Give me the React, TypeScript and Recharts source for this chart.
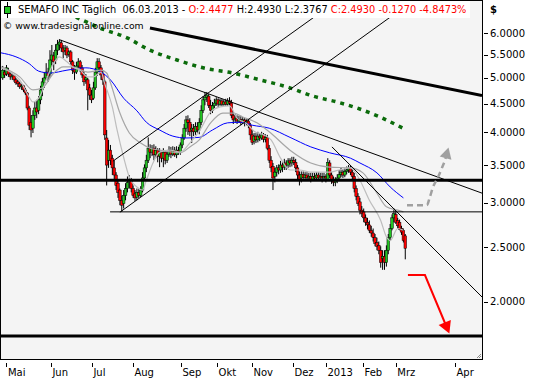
import React from 'react';
import { ComposedChart, Bar, Line, XAxis, YAxis, ReferenceLine } from 'recharts';

const FONT = "'DejaVu Sans', Verdana, sans-serif";

// trading-day index of first candle (0 = 1 May 2012)
const FIRST_DAY = -2;
// [open, high, low, close] per trading day
const ohlc: number[][] = [
  [5.00,5.25,4.96,5.16],[5.12,5.21,5.00,5.06],[5.08,5.27,5.04,5.21],[5.16,5.21,5.02,5.08],[5.08,5.12,4.96,5.02],
  [5.02,5.10,4.96,5.04],[5.04,5.06,4.92,4.96],[4.96,5.00,4.86,4.90],[4.92,4.96,4.82,4.88],[4.88,4.92,4.78,4.82],
  [4.82,4.88,4.76,4.84],[4.84,4.86,4.72,4.76],[4.76,4.80,4.66,4.70],[4.70,4.72,4.38,4.42],[4.42,4.46,4.04,4.12],
  [4.17,4.29,3.92,4.04],[4.07,4.38,3.99,4.29],[4.29,4.53,4.21,4.42],[4.42,4.57,4.24,4.35],[4.38,4.64,4.31,4.57],
  [4.57,4.84,4.49,4.76],[4.76,5.00,4.64,4.92],[4.90,5.12,4.80,5.00],[5.00,5.31,4.96,5.12],[5.12,5.21,4.92,5.04],
  [5.08,5.60,5.00,5.38],[5.38,5.72,5.27,5.49],[5.47,5.56,5.16,5.34],[5.38,5.74,5.29,5.60],[5.60,5.84,5.49,5.74],
  [5.72,5.86,5.60,5.79],[5.77,5.84,5.56,5.65],[5.65,5.72,5.42,5.56],[5.60,5.72,5.49,5.65],[5.65,5.70,5.42,5.49],
  [5.51,5.60,5.45,5.56],[5.56,5.60,5.27,5.34],[5.34,5.38,5.08,5.16],[5.21,5.27,4.96,5.12],[5.12,5.34,5.08,5.25],
  [5.25,5.42,5.16,5.34],[5.34,5.38,5.12,5.21],[5.21,5.27,5.00,5.06],[5.06,5.12,4.84,4.92],[4.96,5.08,4.88,5.00],
  [4.96,5.00,4.38,4.76],[4.80,4.88,4.57,4.66],[4.66,4.76,4.51,4.57],[4.60,4.92,4.57,4.80],[4.80,5.21,4.76,5.12],
  [5.12,5.42,5.04,5.34],[5.34,5.42,5.12,5.21],[5.21,5.27,4.96,5.06],[5.08,5.16,4.86,4.96],[4.92,4.96,3.88,3.96],
  [3.91,4.04,3.22,3.50],[3.57,3.88,3.46,3.72],[3.72,3.80,3.50,3.57],[3.60,3.65,3.36,3.46],[3.46,3.57,3.29,3.36],
  [3.36,3.40,3.16,3.22],[3.25,3.29,3.06,3.13],[3.16,3.18,2.97,3.03],[3.03,3.09,2.89,2.97],[2.99,3.16,2.93,3.09],
  [3.09,3.25,3.03,3.18],[3.18,3.34,3.13,3.26],[3.26,3.36,3.18,3.29],[3.29,3.32,3.13,3.18],[3.18,3.22,3.06,3.09],
  [3.11,3.16,3.02,3.06],[3.07,3.18,3.03,3.13],[3.13,3.18,3.06,3.09],[3.09,3.21,3.07,3.16],[3.16,3.40,3.13,3.32],
  [3.32,3.51,3.29,3.46],[3.46,3.65,3.40,3.57],[3.57,3.92,3.53,3.75],[3.75,3.81,3.60,3.69],[3.69,3.80,3.63,3.75],
  [3.75,3.81,3.57,3.65],[3.65,3.78,3.60,3.72],[3.72,3.75,3.54,3.63],[3.63,3.75,3.47,3.69],[3.69,3.72,3.54,3.60],
  [3.60,3.75,3.47,3.69],[3.69,3.72,3.51,3.57],[3.57,3.72,3.53,3.66],[3.66,3.78,3.62,3.72],[3.72,3.77,3.60,3.66],
  [3.66,3.78,3.63,3.72],[3.72,3.77,3.62,3.65],[3.65,3.78,3.60,3.72],[3.72,3.77,3.65,3.69],[3.69,3.84,3.65,3.80],
  [3.80,3.97,3.75,3.91],[3.91,4.14,3.88,4.07],[4.07,4.28,4.01,4.21],[4.21,4.29,3.96,4.17],[4.17,4.24,3.94,4.01],
  [4.04,4.14,3.83,4.07],[4.07,4.14,3.94,4.01],[4.01,4.17,3.96,4.10],[4.10,4.17,3.99,4.04],[4.04,4.24,3.97,4.17],
  [4.17,4.47,4.12,4.38],[4.38,4.64,4.33,4.57],[4.57,4.72,4.47,4.62],[4.62,4.72,4.53,4.66],[4.64,4.68,4.42,4.47],
  [4.47,4.57,4.31,4.38],[4.38,4.53,4.33,4.46],[4.46,4.59,4.42,4.51],[4.51,4.62,4.46,4.57],[4.57,4.60,4.44,4.49],
  [4.49,4.59,4.46,4.55],[4.55,4.59,4.44,4.49],[4.49,4.57,4.46,4.53],[4.53,4.59,4.46,4.49],[4.49,4.60,4.46,4.55],
  [4.55,4.62,4.47,4.51],[4.51,4.57,4.24,4.29],[4.29,4.35,4.14,4.21],[4.21,4.31,4.16,4.24],[4.24,4.29,4.14,4.19],
  [4.19,4.28,4.16,4.22],[4.22,4.28,4.12,4.17],[4.17,4.26,4.14,4.21],[4.21,4.24,4.10,4.16],[4.16,4.22,4.12,4.19],
  [4.19,4.22,4.07,4.12],[4.12,4.16,3.88,3.96],[3.96,4.04,3.80,3.84],[3.86,3.99,3.81,3.94],[3.94,3.99,3.83,3.88],
  [3.88,4.01,3.84,3.94],[3.94,3.99,3.86,3.91],[3.91,4.01,3.88,3.96],[3.96,3.99,3.84,3.89],[3.89,3.97,3.84,3.92],
  [3.92,3.96,3.72,3.75],[3.75,3.80,3.53,3.57],[3.57,3.63,3.40,3.46],[3.48,3.53,3.16,3.32],[3.34,3.46,3.26,3.40],
  [3.40,3.50,3.34,3.46],[3.46,3.51,3.37,3.43],[3.43,3.56,3.39,3.50],[3.50,3.54,3.40,3.47],[3.47,3.59,3.43,3.53],
  [3.53,3.57,3.43,3.50],[3.50,3.60,3.46,3.56],[3.56,3.60,3.47,3.53],[3.53,3.62,3.48,3.57],[3.57,3.62,3.50,3.54],
  [3.54,3.59,3.40,3.46],[3.46,3.50,3.29,3.36],[3.36,3.41,3.22,3.29],[3.32,3.41,3.26,3.37],[3.37,3.41,3.29,3.33],
  [3.33,3.40,3.29,3.36],[3.36,3.40,3.28,3.32],[3.32,3.39,3.29,3.34],[3.34,3.39,3.26,3.30],[3.30,3.39,3.28,3.34],
  [3.34,3.39,3.28,3.32],[3.32,3.40,3.29,3.36],[3.36,3.40,3.28,3.32],[3.32,3.39,3.29,3.34],[3.34,3.39,3.26,3.32],
  [3.32,3.39,3.28,3.34],[3.34,3.37,3.26,3.32],[3.30,3.60,3.28,3.54],[3.53,3.57,3.32,3.36],[3.36,3.40,3.24,3.29],
  [3.29,3.34,3.21,3.26],[3.26,3.33,3.21,3.29],[3.29,3.37,3.25,3.32],[3.32,3.43,3.29,3.37],[3.37,3.46,3.33,3.40],
  [3.40,3.44,3.32,3.36],[3.36,3.46,3.33,3.41],[3.41,3.48,3.37,3.43],[3.43,3.50,3.39,3.46],[3.46,3.50,3.36,3.40],
  [3.40,3.44,3.29,3.34],[3.34,3.39,3.13,3.18],[3.18,3.22,3.03,3.08],[3.08,3.12,2.96,2.99],[3.01,3.06,2.86,2.91],
  [2.91,2.96,2.83,2.87],[2.89,2.93,2.77,2.82],[2.82,2.86,2.73,2.77],[2.77,2.82,2.69,2.74],[2.74,2.79,2.65,2.68],
  [2.68,2.73,2.61,2.65],[2.65,2.70,2.56,2.60],[2.60,2.64,2.51,2.54],[2.55,2.60,2.47,2.51],[2.52,2.56,2.43,2.47],
  [2.47,2.51,2.30,2.35],[2.39,2.47,2.28,2.41],[2.41,2.47,2.28,2.35],[2.35,2.52,2.31,2.47],[2.47,2.64,2.43,2.60],
  [2.60,2.75,2.57,2.70],[2.70,2.86,2.68,2.82],[2.82,2.93,2.77,2.87],[2.86,2.91,2.75,2.77],[2.79,2.82,2.70,2.73],
  [2.77,2.80,2.68,2.69],[2.70,2.73,2.63,2.66],[2.68,2.70,2.55,2.57],[2.62,2.64,2.38,2.49],
];

// moving averages: [day index, price]
const blueMA: number[][] = [[-3,5.54],[5,5.45],[12,5.30],[17,5.14],[23,5.10],[32,5.16],[42,5.21],[50,5.12],[55,4.96],[62,4.60],[69,4.37],[74,4.17],[81,4.04],[88,3.94],[95,3.91],[102,3.92],[109,4.04],[117,4.16],[124,4.17],[130,4.12],[139,4.07],[150,3.92],[161,3.77],[171,3.68],[182,3.60],[187,3.53],[196,3.39],[203,3.20],[210,3.06]];
const fastMA: number[][] = [[-3,5.21],[2,5.12],[7,4.96],[12,4.62],[14,4.53],[18,4.66],[21,4.96],[25,5.31],[28,5.45],[32,5.34],[35,5.23],[39,5.16],[43,5.02],[46,5.02],[50,5.12],[52,4.88],[56,4.44],[58.5,4.04],[62,3.61],[65,3.33],[69,3.20],[72,3.16],[74,3.29],[77.5,3.53],[81,3.69],[86.5,3.72],[92,3.69],[97,3.83],[102,4.02],[108,4.35],[113,4.44],[118,4.46],[122,4.24],[127,4.15],[131,4.02],[136,3.96],[140,3.88],[145,3.60],[150,3.43],[155,3.43],[161,3.40],[171,3.40],[176,3.43],[182,3.46],[187,3.29],[192,3.03],[198,2.79],[201,2.61],[203,2.57],[207,2.70],[210,2.68]];
const slowMA: number[][] = [[-3,5.23],[7,5.02],[14,4.76],[19,4.80],[25,5.10],[30,5.23],[35,5.23],[43,5.12],[50,5.16],[53,5.10],[55,4.90],[60,4.33],[65,3.99],[71,3.83],[76,3.75],[81,3.72],[88,3.69],[92,3.68],[97,3.77],[102,3.88],[108,4.16],[114.5,4.33],[120,4.33],[125,4.26],[132.5,4.16],[139,4.01],[150,3.72],[161,3.53],[171,3.47],[182,3.46],[188.6,3.39],[196,3.12],[201,2.95],[207,2.91],[210,2.89]];
const longMA: number[][] = [[28,6.60],[38.9,6.36],[49.5,6.13],[63.8,5.89],[75.9,5.60],[90.2,5.38],[104,5.21],[119.8,5.10],[134.1,4.96],[150,4.80],[162.2,4.64],[174.9,4.53],[185.4,4.42],[197.6,4.26],[209.8,4.07]];

// drawn trend lines: [[x1, p1], [x2, p2]]
const thinTrends: number[][][] = [
  [[28.3,5.84],[251.6,3.12]],
  [[56.3,3.556],[175.4,6.876]],
  [[60,2.886],[215.6,6.876]],
  [[172.2,3.77],[251.6,2.04]],
  [[54.8,2.89],[251.6,2.89]],
];
const thickTrends: number[][][] = [
  [[75.9,6.13],[251.6,4.65]],
  [[-2.91,3.29],[251.6,3.29]],
  [[-2.91,1.739],[251.6,1.739]],
];
const redArrow: number[][] = [[212.4,2.232],[221.4,2.232],[233.1,1.797]];
const greyArrow: number[][] = [[211.9,2.97],[222.4,2.97],[224,3.07],[225.7,3.20],[228.3,3.33],[230.4,3.46],[232,3.57],[233.1,3.68]];

const monthTicks = [0, 23.5, 45.2, 66.9, 92.3, 111.4, 129.9, 151.6, 169, 188.6, 206, 237.3];
const monthLabels = ['Mai','Jun','Jul','Aug','Sep','Okt','Nov','Dez','2013','Feb','Mrz','Apr'];
const priceTicks = [2, 2.5, 3, 3.5, 4, 4.5, 5, 5.5, 6];

const X_DOMAIN: [number, number] = [-2.91, 251.59];
const Y_DOMAIN: [number, number] = [1.583, 6.848];

const candleData = ohlc.map(([o, h, l, c], i) => ({ x: FIRST_DAY + i, o, h, l, c, range: [l, h] }));
const pts = (arr: number[][]) => arr.map(([x, v]) => ({ x, v }));

const Candle = (props: any) => {
  const { x, y, width, height, payload } = props;
  if (x == null || y == null || !payload) return <g />;
  const cx = x + width / 2;
  const { o, h, l, c } = payload;
  const lh = Math.log(h), ll = Math.log(l);
  const span = lh - ll;
  const py = (v: number) => (span > 0 ? y + ((lh - Math.log(v)) / span) * height : y);
  const yo = py(o), yc = py(c);
  const up = c >= o;
  const top = Math.min(yo, yc), bot = Math.max(yo, yc);
  return (
    <g>
      <line x1={cx} x2={cx} y1={y} y2={y + height} stroke="#000" strokeWidth={1} />
      <rect x={cx - 1.3} y={top} width={2.6} height={Math.max(bot - top, 1)} fill={up ? '#22c422' : '#ff0000'} stroke="#000" strokeWidth={0.5} />
    </g>
  );
};

const arrowDot = (color: string, fallbackAngle: number, size: number) => (props: any) => {
  const { cx, cy, index, points } = props;
  const n = points ? points.length : 0;
  if (!points || index !== n - 1) return <g key={`d${index}`} />;
  let ang = fallbackAngle;
  if (n > 1) {
    const prev = points[n - 2];
    ang = Math.atan2(cy - prev.y, cx - prev.x);
  }
  const tx = cx + Math.cos(ang) * size * 0.5, ty = cy + Math.sin(ang) * size * 0.5;
  const bx = tx - Math.cos(ang) * size, by = ty - Math.sin(ang) * size;
  const w = size * 0.55;
  const px = -Math.sin(ang) * w, py = Math.cos(ang) * w;
  return <polygon key={`d${index}`} points={`${tx},${ty} ${bx + px},${by + py} ${bx - px},${by - py}`} fill={color} />;
};

const PriceTick = (p: any) => {
  const { x, y, payload } = p;
  const yy = Math.round(y) + 0.5;
  return (
    <g>
      <line x1={x + 2} x2={x + 6} y1={yy} y2={yy} stroke="#000" />
      <text x={x + 8} y={y + 3.5} fontSize={10} fontFamily={FONT} fill="#000">{Number(payload.value).toFixed(4)}</text>
    </g>
  );
};

const MonthTick = (p: any) => {
  const { x, y, payload } = p;
  const i = monthTicks.indexOf(payload.value);
  const xx = Math.round(x) + 0.5;
  return (
    <g>
      <line x1={xx} x2={xx} y1={y + 4} y2={y + 8} stroke="#000" />
      <text x={x + 1.5} y={y + 17} fontSize={10} fontFamily={FONT} fill="#000">{monthLabels[i]}</text>
    </g>
  );
};

export default function App() {
  return (
    <div style={{ position: 'absolute', left: 0, top: 0, width: 540, height: 380, background: '#fff', overflow: 'hidden' }}>
      <div style={{ position: 'absolute', left: 0, top: 0, width: 483, height: 360, boxSizing: 'border-box', border: '1px solid #000', background: '#f4f4f4' }} />
      <div style={{ position: 'absolute', left: 0, top: 0 }}>
        <ComposedChart width={540} height={380} data={candleData} margin={{ top: 1, right: 0, bottom: 0, left: 1 }}>
          <XAxis type="number" dataKey="x" domain={X_DOMAIN} allowDataOverflow ticks={monthTicks} interval={0}
            tick={<MonthTick />} tickLine={false} axisLine={false} tickSize={0} tickMargin={0} height={21} />
          <YAxis orientation="right" scale="log" domain={Y_DOMAIN} allowDataOverflow ticks={priceTicks} interval={0}
            tick={<PriceTick />} tickLine={false} axisLine={false} tickSize={0} tickMargin={0} width={58} />
          <Line data={pts(longMA)} dataKey="v" type="monotone" stroke="#0b6b0b" strokeWidth={3.5} strokeDasharray="4 5" dot={false} isAnimationActive={false} />
          <Line data={pts(blueMA)} dataKey="v" type="monotone" stroke="#0000ff" strokeWidth={1} dot={false} isAnimationActive={false} />
          <Line data={pts(slowMA)} dataKey="v" type="monotone" stroke="#a6a6a6" strokeWidth={1.2} dot={false} isAnimationActive={false} />
          <Line data={pts(fastMA)} dataKey="v" type="monotone" stroke="#bdbdbd" strokeWidth={1.2} dot={false} isAnimationActive={false} />
          <Bar dataKey="range" barSize={2} shape={(p: any) => <Candle {...p} />} isAnimationActive={false} />
          {thinTrends.map((s, i) => (
            <ReferenceLine key={`t${i}`} segment={[{ x: s[0][0], y: s[0][1] }, { x: s[1][0], y: s[1][1] }]} stroke="#000" strokeWidth={1} ifOverflow="hidden" />
          ))}
          {thickTrends.map((s, i) => (
            <ReferenceLine key={`k${i}`} segment={[{ x: s[0][0], y: s[0][1] }, { x: s[1][0], y: s[1][1] }]} stroke="#000" strokeWidth={3} ifOverflow="hidden" />
          ))}
          <Line data={pts(greyArrow)} dataKey="v" type="monotone" stroke="#a0a0a0" strokeWidth={2.5} strokeDasharray="6 4"
            dot={arrowDot('#a0a0a0', -1.3, 11)} isAnimationActive={false} />
          <Line data={pts(redArrow)} dataKey="v" type="linear" stroke="#ff0000" strokeWidth={2}
            dot={arrowDot('#ff0000', 1.18, 12)} isAnimationActive={false} />
        </ComposedChart>
      </div>
      <div style={{ position: 'absolute', left: 1, top: 1, width: 469, height: 17, background: '#fff' }} />
      <svg style={{ position: 'absolute', left: 0, top: 0 }} width={540} height={380} pointerEvents="none">
        <line x1={477} y1={358} x2={481} y2={354} stroke="#888" />
        <line x1={479} y1={358} x2={481} y2={356} stroke="#888" />
        <line x1={7.5} x2={7.5} y1={2} y2={18} stroke="#000" />
        <rect x={4.5} y={6.5} width={6} height={7} fill="#22c422" stroke="#000" />
      </svg>
      <div style={{ position: 'absolute', left: 18, top: 4, font: `9.8px ${FONT}`, lineHeight: '12px', whiteSpace: 'pre', color: '#000' }}>
        SEMAFO INC Täglich  06.03.2013 - <span style={{ color: '#ff0000' }}>O:2.4477</span> H:2.4930 L:2.3767 <span style={{ color: '#ff0000' }}>C:2.4930 -0.1270 -4.8473%</span>
      </div>
      <div style={{ position: 'absolute', left: 3, top: 20, font: `9.3px ${FONT}`, lineHeight: '12px', whiteSpace: 'pre', color: '#000' }}>
        © www.tradesignalonline.com
      </div>
      <div style={{ position: 'absolute', left: 490, top: 4, font: `bold 10px ${FONT}`, lineHeight: '12px', color: '#000' }}>$</div>
    </div>
  );
}
